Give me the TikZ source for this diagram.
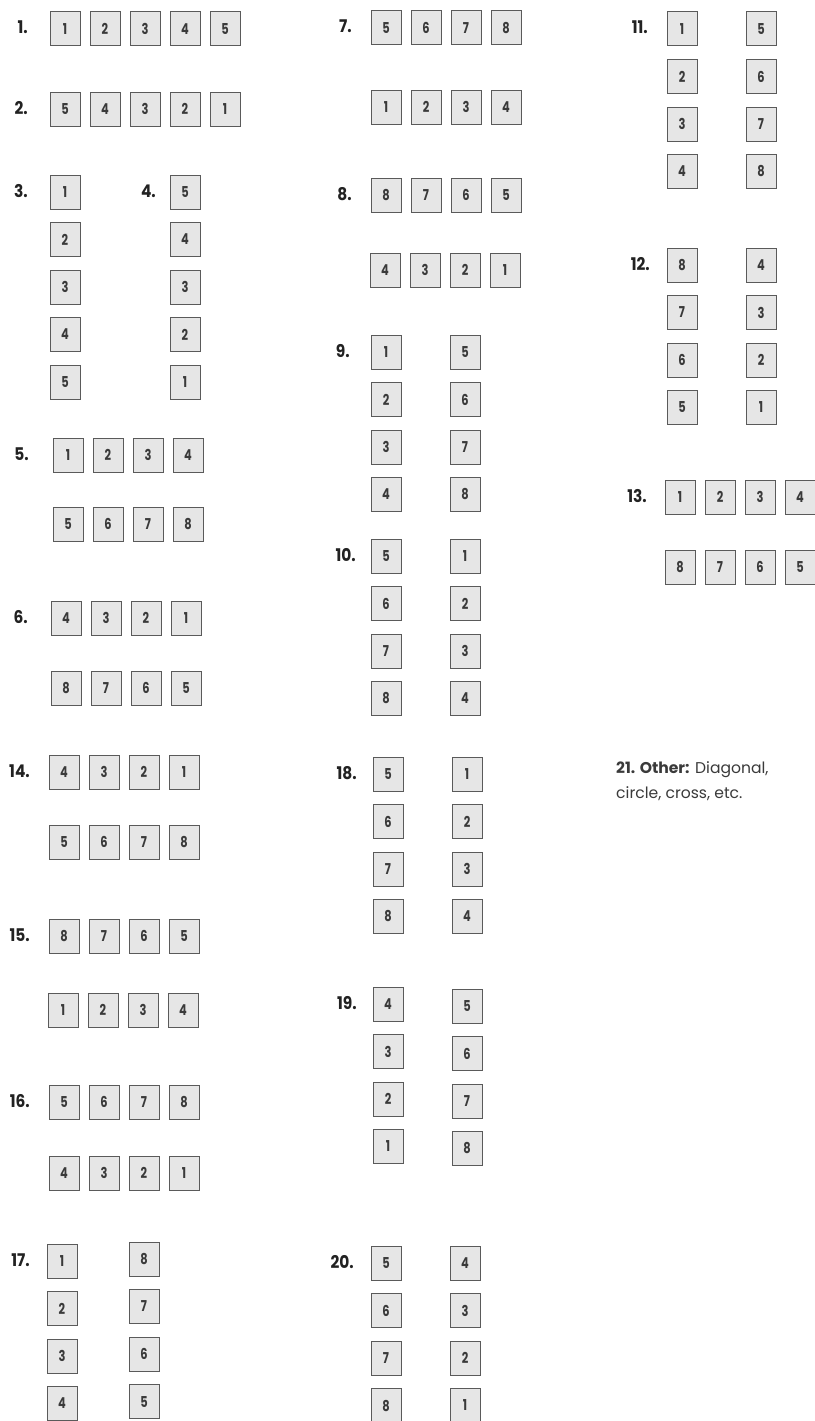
\documentclass[tikz,border=0pt]{standalone}
\usepackage{fontspec}
\setmainfont{Poppins}
\newfontfamily\lblfont[FakeStretch=0.88]{Poppins}
\newfontfamily\numfont[FakeStretch=0.76]{Poppins}
\definecolor{boxfill}{HTML}{E6E6E6}
\definecolor{boxline}{HTML}{5A5A5A}
\definecolor{ink}{HTML}{222222}
\definecolor{ink2}{HTML}{3A3A3A}
\tikzset{
  cell/.style={draw=boxline, fill=boxfill, line width=1pt, minimum width=30pt, minimum height=34pt,
    inner sep=0pt, font=\numfont\bfseries\fontsize{15}{15}\selectfont, text=ink2},
  lbl/.style={anchor=base east, inner sep=0pt, font=\lblfont\bfseries\fontsize{17.5}{17.5}\selectfont, text=ink},
  note/.style={anchor=base west, inner sep=0pt, font=\fontsize{15.6}{15.6}\selectfont, text=ink2, align=left}
}
\newcommand\hrow[4]{\foreach \v [count=\i] in {#4} {\node[cell] (#1-\i) at ({#2+40*(\i-1)},#3) {\v};}}
\newcommand\vcol[4]{\foreach \v [count=\i] in {#4} {\node[cell] (#1-\i) at (#2,{#3+47.5*(\i-1)}) {\v};}}
\newcommand\lab[4]{\node[lbl] (#1) at (#2,{#3+5}) {#4};}
\begin{document}
\begin{tikzpicture}[x=1pt,y=-1pt]
\useasboundingbox (0,0) rectangle (814,1421);
% column 1
\lab{L1}{28}{29}{1.}
\hrow{a1}{65}{29}{1,2,3,4,5}
\lab{L2}{28}{109}{2.}
\hrow{a2}{65}{109}{5,4,3,2,1}
\lab{L3}{28}{192}{3.}
\vcol{a3}{65}{192}{1,2,3,4,5}
\lab{L4}{156}{192}{4.}
\vcol{a4}{185}{192}{5,4,3,2,1}
\lab{L5}{29}{455}{5.}
\hrow{a5t}{68}{455}{1,2,3,4}
\hrow{a5b}{68}{524}{5,6,7,8}
\lab{L6}{28}{618}{6.}
\hrow{a6t}{66}{618}{4,3,2,1}
\hrow{a6b}{66}{688}{8,7,6,5}
\lab{L14}{30}{772}{14.}
\hrow{a14t}{64}{772}{4,3,2,1}
\hrow{a14b}{64}{842}{5,6,7,8}
\lab{L15}{30}{936}{15.}
\hrow{a15t}{64}{936}{8,7,6,5}
\hrow{a15b}{63}{1010}{1,2,3,4}
\lab{L16}{30}{1102}{16.}
\hrow{a16t}{64}{1102}{5,6,7,8}
\hrow{a16b}{64}{1173}{4,3,2,1}
\lab{L17}{30}{1261}{17.}
\vcol{a17l}{62}{1261}{1,2,3,4}
\vcol{a17r}{144}{1259}{8,7,6,5}
% column 2
\lab{L7}{352}{28}{7.}
\hrow{b7t}{386}{28}{5,6,7,8}
\hrow{b7b}{386}{107}{1,2,3,4}
\lab{L8}{352}{195}{8.}
\hrow{b8t}{386}{195}{8,7,6,5}
\hrow{b8b}{385}{270}{4,3,2,1}
\lab{L9}{350}{352}{9.}
\vcol{b9l}{386}{352}{1,2,3,4}
\vcol{b9r}{465}{352}{5,6,7,8}
\lab{L10}{356}{556}{10.}
\vcol{b10l}{386}{556}{5,6,7,8}
\vcol{b10r}{465}{556}{1,2,3,4}
\lab{L18}{357}{774}{18.}
\vcol{b18l}{388}{774}{5,6,7,8}
\vcol{b18r}{467}{774}{1,2,3,4}
\lab{L19}{357}{1004}{19.}
\vcol{b19l}{388}{1004}{4,3,2,1}
\vcol{b19r}{467}{1006}{5,6,7,8}
\lab{L20}{354}{1263}{20.}
\vcol{b20l}{386}{1263}{5,6,7,8}
\vcol{b20r}{465}{1263}{4,3,2,1}
% column 3
\lab{L11}{648}{29}{11.}
\vcol{c11l}{682}{29}{1,2,3,4}
\vcol{c11r}{761}{29}{5,6,7,8}
\lab{L12}{650}{265}{12.}
\vcol{c12l}{682}{265}{8,7,6,5}
\vcol{c12r}{761}{265}{4,3,2,1}
\lab{L13}{647}{497}{13.}
\hrow{c13t}{680}{497}{1,2,3,4}
\hrow{c13b}{680}{567}{8,7,6,5}
\node[note] (N21) at (616,773) {\textbf{21. Other:} Diagonal,};
\node[note] (N21b) at (616,798) {circle, cross, etc.};
\end{tikzpicture}
\end{document}
